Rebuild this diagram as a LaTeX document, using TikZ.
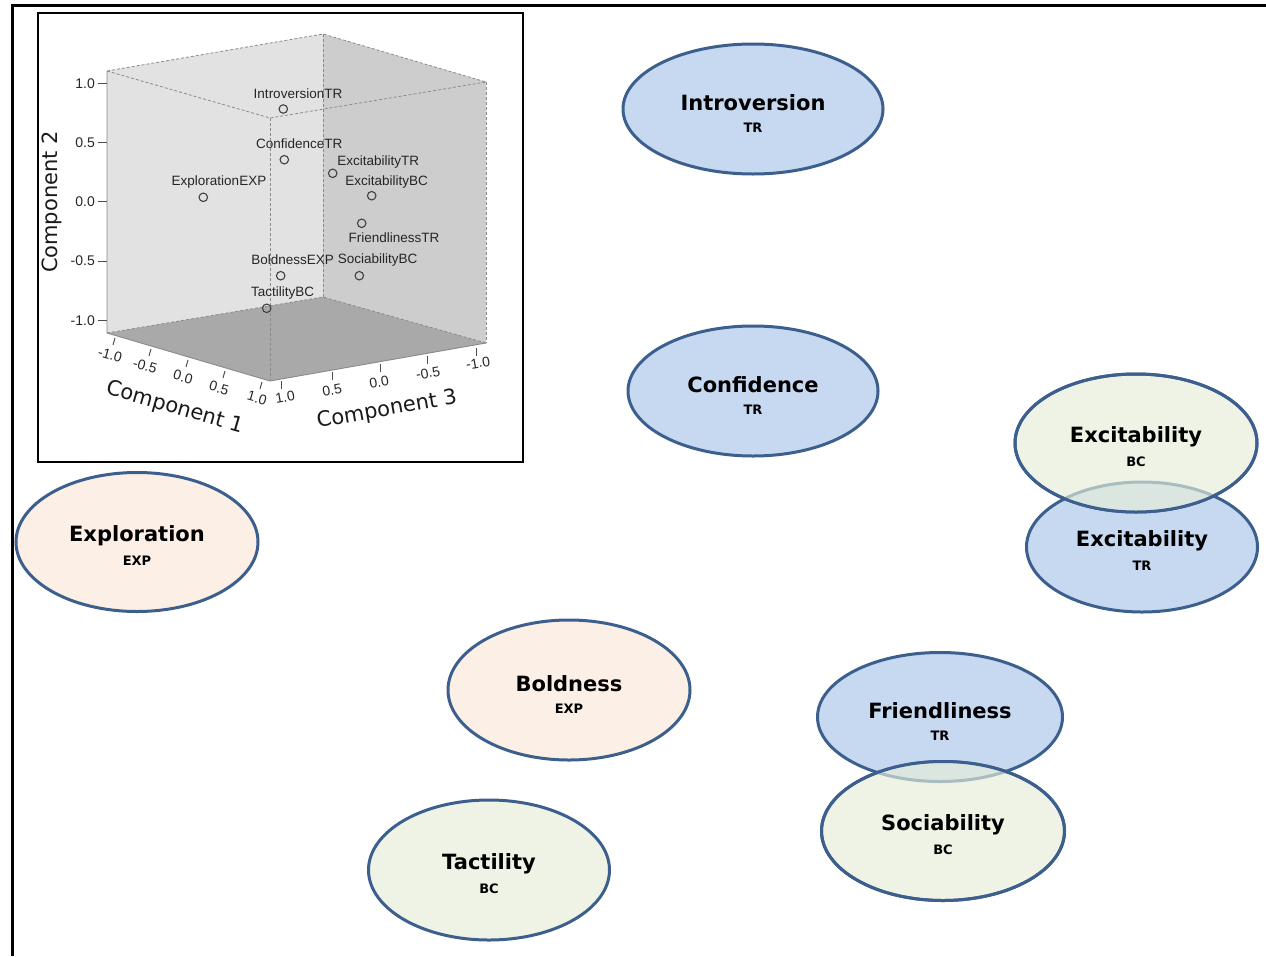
\documentclass[tikz,border=0pt]{standalone}
\usepackage{fontspec}
\setmainfont{DejaVu Sans}
\newfontfamily\arialf{Liberation Sans}
\usetikzlibrary{shapes.geometric}
\definecolor{edgeblue}{HTML}{3C5F8E}
\definecolor{fillblue}{HTML}{C6D9F1}
\definecolor{fillpeach}{HTML}{FCEFE5}
\definecolor{fillgreen}{HTML}{EFF3E6}
\definecolor{overlapc}{HTML}{DCE6E0}
\definecolor{fadedc}{HTML}{A9BCC0}
\definecolor{wallL}{HTML}{E2E2E2}
\definecolor{wallR}{HTML}{CDCDCD}
\definecolor{floorc}{HTML}{A9A9A9}
\definecolor{boxedge}{HTML}{8A8A8A}
\definecolor{markc}{HTML}{404040}
\begin{document}
\begin{tikzpicture}[x=1pt,y=-1pt,
  trait/.style={ellipse, draw=edgeblue, line width=3pt, inner sep=0pt},
  ttl/.style={font=\bfseries\fontsize{21}{25}\selectfont, inner sep=0pt},
  sub/.style={font=\bfseries\fontsize{13}{15}\selectfont, inner sep=0pt},
  dlab/.style={font=\arialf\fontsize{13.5}{15}\selectfont, inner sep=0pt, text=black!85},
  tlab/.style={font=\arialf\fontsize{14}{16}\selectfont, inner sep=0pt, text=black!85},
  clab/.style={font=\fontsize{21}{24}\selectfont, inner sep=0pt, text=black!90},
  mk/.style={circle, draw=markc, line width=1.1pt, minimum size=8.5pt, inner sep=0pt},
  boxdash/.style={draw=boxedge, line width=0.8pt, dash pattern=on 3pt off 2pt},
  edgesolid/.style={draw=boxedge, line width=0.9pt},
  axtick/.style={draw=black!70, line width=1pt}]
\useasboundingbox (0,0) rectangle (1266,956);

% outer frame
\draw[line width=3pt] (12,956) -- (12,5) -- (1266,5);

% ---------- inset 3D plot ----------
\draw[line width=1.2pt] (38,13) rectangle (523,462);
\coordinate (TL) at (107,71);
\coordinate (TB) at (323,34);
\coordinate (TR) at (486,82);
\coordinate (TF) at (270,118);
\coordinate (BL) at (107,333);
\coordinate (BB) at (323,297);
\coordinate (BR) at (486,343);
\coordinate (BF) at (270,381);
\fill[wallL] (TL) -- (TB) -- (BB) -- (BL) -- cycle;
\fill[wallR] (TB) -- (TR) -- (BR) -- (BB) -- cycle;
\fill[floorc] (BL) -- (BB) -- (BR) -- (BF) -- cycle;
\draw[boxdash] (TL) -- (TB) -- (TR);
\draw[boxdash] (TL) -- (TF) -- (TR);
\draw[boxdash] (TF) -- (BF);
\draw[boxdash] (TB) -- (BB);
\draw[boxdash] (TR) -- (BR);
\draw[edgesolid] (TL) -- (BL) -- (BF) -- (BR);
\draw[boxdash] (BL) -- (BB) -- (BR);

% component 2 axis
\foreach \v/\yy in {1.0/83.3, 0.5/142.3, 0.0/201.7, -0.5/261, -1.0/320.7}{
  \draw[axtick] (98,\yy) -- (107,\yy);
  \node[tlab, anchor=east] at (95,\yy) {\v};
}
\node[clab, rotate=90] (c2) at (51.7,202) {Component 2};

% component 1 axis
\foreach \v/\xx/\yy/\tx/\ty in {-1.0/115/338/110/355, -0.5/151/349/145/366, 0.0/188/360/183/377, 0.5/225/371/219/388, 1.0/262/382/257/398}{
  \draw[axtick] (\xx,\yy) -- (\xx-2,\yy+7);
  \node[tlab, rotate=-16] at (\tx,\ty) {\v};
}
\node[clab, rotate=-16] (c1) at (175,408) {Component 1};

% component 3 axis
\foreach \v/\xx/\yy/\tx/\ty in {1.0/281/381/285/397, 0.5/332/372/332/390, 0.0/380/364/379/382, -0.5/427/356/428/373, -1.0/476/348/478/363}{
  \draw[axtick] (\xx,\yy) -- (\xx,\yy+8);
  \node[tlab, rotate=10] at (\tx,\ty) {\v};
}
\node[clab, rotate=10] (c3) at (387,410) {Component 3};

% data points
\node[mk] (pIntro) at (283.3,109) {};
\node[dlab] (lIntro) at (298,93.3) {IntroversionTR};
\node[mk] (pConf) at (284.3,159.7) {};
\node[dlab] (lConf) at (299.3,144) {ConfidenceTR};
\node[mk] (pExTR) at (332.7,173.3) {};
\node[dlab] (lExTR) at (378.3,162.3) {ExcitabilityTR};
\node[mk] (pExBC) at (371.7,195.7) {};
\node[dlab] (lExBC) at (386.7,181.7) {ExcitabilityBC};
\node[mk] (pExpl) at (203.3,197.3) {};
\node[dlab] (lExpl) at (219,182.3) {ExplorationEXP};
\node[mk] (pFr) at (361.7,223.3) {};
\node[dlab] (lFr) at (394,237.7) {FriendlinessTR};
\node[mk] (pBo) at (280.7,275.7) {};
\node[dlab] (lBo) at (292.7,260) {BoldnessEXP};
\node[mk] (pSo) at (359.3,275.7) {};
\node[dlab] (lSo) at (377.7,260) {SociabilityBC};
\node[mk] (pTa) at (266.7,308.3) {};
\node[dlab] (lTa) at (282.7,292.7) {TactilityBC};

% ---------- trait ellipses ----------
\node[trait, fill=fillblue, minimum width=260, minimum height=130] (intro) at (753,109) {};
\node[trait, fill=fillblue, minimum width=250, minimum height=130] (conf) at (753,391) {};
\node[trait, fill=fillpeach, minimum width=242, minimum height=139] (expl) at (137,542) {};
\node[trait, fill=fillpeach, minimum width=242, minimum height=140] (bold) at (569,690) {};
\node[trait, fill=fillgreen, minimum width=241, minimum height=140] (tact) at (489,870) {};
\node[trait, fill=fillblue, minimum width=231, minimum height=130] (exTR) at (1142,547) {};
\node[trait, fill=fillgreen, minimum width=242, minimum height=138] (exBC) at (1136,443) {};
\node[trait, fill=fillblue, minimum width=245, minimum height=129] (frTR) at (940,717) {};
\node[trait, fill=fillgreen, minimum width=243, minimum height=139] (soBC) at (943,831) {};

% overlap of the two Excitability ellipses
\begin{scope}
  \clip (exBC.center) ellipse [x radius=121pt, y radius=69pt];
  \fill[overlapc] (exTR.center) ellipse [x radius=115.5pt, y radius=65pt];
  \draw[fadedc, line width=3pt] (exTR.center) ellipse [x radius=115.5pt, y radius=65pt];
\end{scope}
\draw[edgeblue, line width=3pt] (exBC.center) ellipse [x radius=121pt, y radius=69pt];

% overlap of Friendliness and Sociability
\begin{scope}
  \clip (soBC.center) ellipse [x radius=121.5pt, y radius=69.5pt];
  \fill[overlapc] (frTR.center) ellipse [x radius=122.5pt, y radius=64.5pt];
  \draw[fadedc, line width=3pt] (frTR.center) ellipse [x radius=122.5pt, y radius=64.5pt];
\end{scope}
\draw[edgeblue, line width=3pt] (soBC.center) ellipse [x radius=121.5pt, y radius=69.5pt];

\foreach \n/\t/\s in {intro/Introversion/TR, conf/Confidence/TR, expl/Exploration/EXP, bold/Boldness/EXP, tact/Tactility/BC, exTR/Excitability/TR, exBC/Excitability/BC, frTR/Friendliness/TR, soBC/Sociability/BC}{
  \node[ttl] (\n-t) at ([yshift=6pt]\n.center) {\t};
  \node[sub] (\n-s) at ([yshift=-19pt]\n.center) {\s};
}
\end{tikzpicture}
\end{document}
